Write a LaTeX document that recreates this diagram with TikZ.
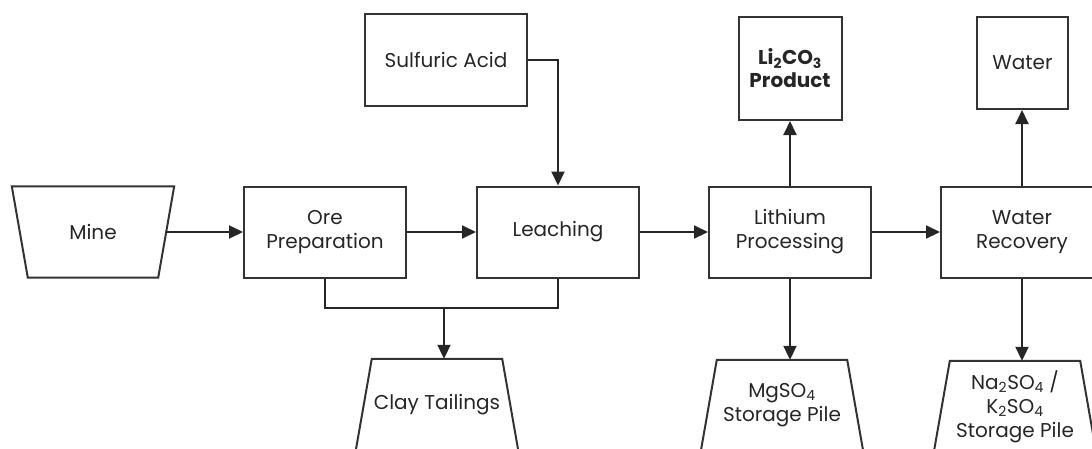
\documentclass[tikz,border=0pt]{standalone}
\usepackage{fontspec}
\setmainfont{Poppins}
\usetikzlibrary{arrows.meta}

\tikzset{
  unitbox/.style={draw=black!80, line width=2pt, rectangle, align=center,
    minimum width=162pt, minimum height=91pt, inner sep=2pt},
  pilebox/.style={rectangle, align=center, minimum width=162pt, minimum height=91pt, inner sep=2pt},
  outline/.style={draw=black!80, line width=2pt, line join=miter},
  flow/.style={line width=2pt, black!85, -{Triangle[length=14pt,width=13pt]}},
  link/.style={line width=2pt, black!85}
}

\begin{document}
\begin{tikzpicture}[x=1pt, y=-1pt, font=\fontsize{20}{24}\selectfont, text=black!85]
  \useasboundingbox (0,0) rectangle (1092,448);
  \clip (0,0) rectangle (1092,448);

  % main line
  \node[pilebox] (mine) at (93,232) {Mine};
  \node[unitbox] (prep) at (325,232) {Ore\\Preparation};
  \node[unitbox] (leach) at (558,232) {Leaching};
  \node[unitbox] (lith) at (790,232) {Lithium\\Processing};
  \node[unitbox] (recov) at (1022,232) {Water\\Recovery};

  % inputs and products
  \node[unitbox, minimum height=92pt] (acid) at (446,60) {Sulfuric Acid};
  \node[unitbox, minimum width=103pt, minimum height=103pt, font=\fontsize{20}{23}\selectfont\bfseries]
    (prod) at (790,68.5) {Li\textsubscript{2}CO\textsubscript{3}\\Product};
  \node[unitbox, minimum width=91pt, minimum height=92pt] (water) at (1022.5,63) {Water};

  % piles
  \node[pilebox] (clay) at (437,404.5) {Clay Tailings};
  \node[pilebox] (mgso) at (782,405.5) {MgSO\textsubscript{4}\\Storage Pile};
  \node[pilebox] (naso) at (1015,406.5) {Na\textsubscript{2}SO\textsubscript{4} /\\K\textsubscript{2}SO\textsubscript{4}\\Storage Pile};

  % trapezoid outlines
  \draw[outline] (mine.north west) -- (mine.north east) -- ([xshift=-16pt]mine.south east)
    -- ([xshift=16pt]mine.south west) -- cycle;
  \foreach \p in {clay,mgso,naso}
    \draw[outline] ([xshift=16pt]\p.north west) -- ([xshift=-16pt]\p.north east)
      -- (\p.south east) -- (\p.south west) -- cycle;

  \coordinate (split) at (444,308);

  \draw[flow] ([xshift=-8pt]mine.east) -- (prep);
  \draw[flow] (prep) -- (leach);
  \draw[flow] (leach) -- (lith);
  \draw[flow] (lith) -- (recov);
  \draw[flow] (acid.east) -| (leach.north);
  \draw[flow] (lith.north) -- (prod.south);
  \draw[flow] (recov.north) -- (recov.north |- water.south);
  \draw[link] (prep.south) |- (split) -| (leach.south);
  \draw[flow] (split) -- (split |- clay.north);
  \draw[flow] (lith.south) -- (lith.south |- mgso.north);
  \draw[flow] (recov.south) -- (recov.south |- naso.north);
\end{tikzpicture}
\end{document}
